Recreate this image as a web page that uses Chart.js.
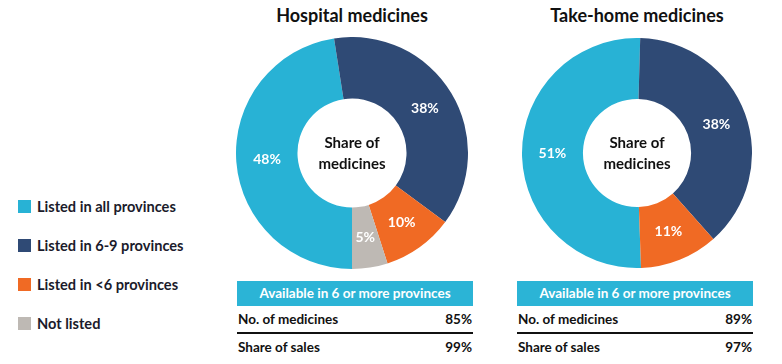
<!DOCTYPE html>
<html>
<head>
<meta charset="utf-8">
<script src="https://cdn.jsdelivr.net/npm/chart.js@4"></script>
<style>
  body { margin: 0; width: 782px; height: 364px; background: #fff; position: relative; overflow: hidden;
         font-family: Lato, "Open Sans", sans-serif; font-weight: bold; color: #111; }
  .title { position: absolute; top: 4px; font-size: 18px; text-align: center; width: 260px; }
  .box { position: absolute; }
  .legend { position: absolute; left: 18px; top: 198px; font-size: 14.6px; color: #1b1b2b; }
  .legend div { height: 39px; display: flex; align-items: flex-start; }
  .legend span.sw { display: inline-block; width: 13px; height: 13px; margin-right: 6px; margin-top: 2px; }
  .tbl { position: absolute; width: 236px; font-size: 13.5px; }
  .tbl .head { background: #2BB4D6; color: #fff; text-align: center; height: 25px; line-height: 25px; }
  .tbl .row { display: flex; justify-content: space-between; height: 27px; line-height: 27px; padding: 0 1px; }
  .tbl .row.first { border-bottom: 2px solid #111; height: 26px; }
</style>
</head>
<body>
<div class="title" style="left:222px;">Hospital medicines</div>
<div class="title" style="left:507px;">Take-home medicines</div>
<canvas id="hosp" class="box" style="left:236px; top:37px;" width="232" height="232"></canvas>
<canvas id="home" class="box" style="left:522px; top:38px;" width="230" height="230"></canvas>
<div class="legend" id="legend"></div>
<div class="tbl" id="tblHosp" style="left:237px; top:281px;"></div>
<div class="tbl" id="tblHome" style="left:517px; top:281px;"></div>
<script>
// categories and colours
const categories = ["Listed in all provinces", "Listed in 6-9 provinces", "Listed in <6 provinces", "Not listed"];
const colors = ["#28B2D5", "#2F4A75", "#F06A24", "#BEB9B4"];

// share of medicines (%)
const hospitalValues = [48, 38, 10, 5];
const takeHomeValues = [51, 38, 11, 0];

// table rows
const tableHeader = "Available in 6 or more provinces";
const rowLabels = ["No. of medicines", "Share of sales"];
const hospitalTable = ["85%", "99%"];
const takeHomeTable = ["89%", "97%"];

// legend
const legend = document.getElementById("legend");
categories.forEach((c, i) => {
    const d = document.createElement("div");
    d.innerHTML = `<span class="sw" style="background:${colors[i]}"></span>${c.replace("<", "&lt;")}`;
    legend.appendChild(d);
});

// tables
function fillTable(id, vals) {
    const el = document.getElementById(id);
    el.innerHTML = `<div class="head">${tableHeader}</div>` +
        rowLabels.map((r, i) => `<div class="row${i === 0 ? " first" : ""}"><span>${r}</span><span>${vals[i]}</span></div>`).join("");
}
fillTable("tblHosp", hospitalTable);
fillTable("tblHome", takeHomeTable);

// labels on slices and text in the hole
const donutText = {
    id: "donutText",
    afterDatasetsDraw(chart) {
        const ctx = chart.ctx;
        const meta = chart.getDatasetMeta(0);
        ctx.save();
        ctx.textAlign = "center";
        ctx.textBaseline = "middle";
        ctx.font = "bold 14px Lato, 'Open Sans', sans-serif";
        ctx.fillStyle = "#fff";
        meta.data.forEach((arc, i) => {
            const v = chart.data.datasets[0].data[i];
            if (!v) return;
            const p = arc.tooltipPosition();
            ctx.fillText(v + "%", p.x, p.y);
        });
        const a = meta.data[0];
        ctx.fillStyle = "#111";
        ctx.font = "bold 15px Lato, 'Open Sans', sans-serif";
        ctx.fillText("Share of", a.x, a.y - 10);
        ctx.fillText("medicines", a.x, a.y + 11);
        ctx.restore();
    }
};

function makeDonut(id, values, rotation) {
    new Chart(document.getElementById(id), {
        type: "doughnut",
        data: {
            labels: categories,
            datasets: [{ data: values, backgroundColor: colors, borderWidth: 0 }]
        },
        options: {
            responsive: false,
            animation: false,
            rotation: rotation,
            cutout: "47%",
            layout: { padding: 0 },
            plugins: { legend: { display: false }, tooltip: { enabled: false } }
        },
        plugins: [donutText]
    });
}

makeDonut("hosp", hospitalValues, 180);
makeDonut("home", takeHomeValues, 178);
</script>
</body>
</html>
